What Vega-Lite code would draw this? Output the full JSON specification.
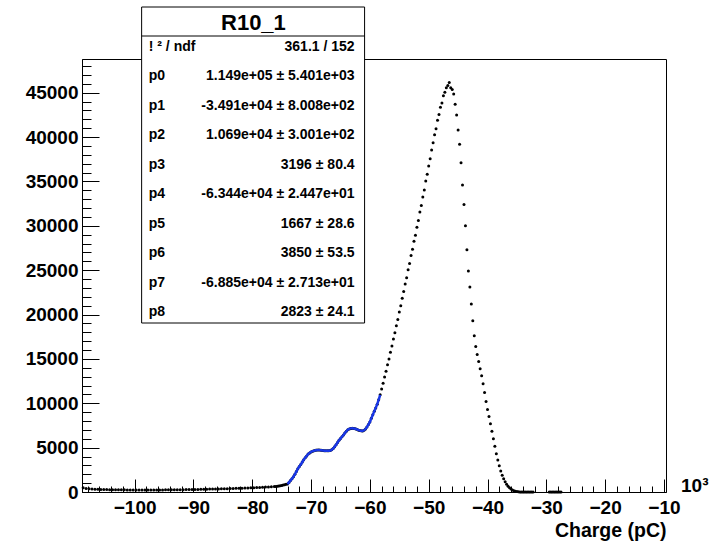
{
  "$schema": "https://vega.github.io/schema/vega-lite/v6.json",
  "width": 584,
  "height": 433,
  "autosize": "none",
  "padding": {"left": 82, "top": 59, "right": 61, "bottom": 52},
  "background": "white",
  "config": {
    "font": "Liberation Sans",
    "view": {"stroke": "black", "strokeWidth": 1},
    "axis": {"grid": false, "domainColor": "black", "tickColor": "black", "labelColor": "black", "titleColor": "black", "labelFont": "Liberation Sans", "titleFont": "Liberation Sans", "tickWidth": 1, "domainWidth": 1}
  },
  "datasets": {
    "hist": [
      {"q":-108.75,"n":480},{"q":-108.25,"n":400},{"q":-107.75,"n":360},{"q":-107.25,"n":330},{"q":-106.75,"n":310},{"q":-106.25,"n":300},{"q":-105.75,"n":290},{"q":-105.25,"n":280},{"q":-104.75,"n":270},{"q":-104.25,"n":265},{"q":-103.75,"n":260},{"q":-103.25,"n":250},{"q":-102.75,"n":245},{"q":-102.25,"n":240},{"q":-101.75,"n":240},{"q":-101.25,"n":235},{"q":-100.75,"n":230},{"q":-100.25,"n":230},{"q":-99.75,"n":225},{"q":-99.25,"n":225},{"q":-98.75,"n":220},{"q":-98.25,"n":225},{"q":-97.75,"n":220},{"q":-97.25,"n":225},{"q":-96.75,"n":225},{"q":-96.25,"n":230},{"q":-95.75,"n":230},{"q":-95.25,"n":235},{"q":-94.75,"n":240},{"q":-94.25,"n":240},{"q":-93.75,"n":245},{"q":-93.25,"n":250},{"q":-92.75,"n":255},{"q":-92.25,"n":260},{"q":-91.75,"n":265},{"q":-91.25,"n":270},{"q":-90.75,"n":275},{"q":-90.25,"n":280},{"q":-89.75,"n":290},{"q":-89.25,"n":295},{"q":-88.75,"n":300},{"q":-88.25,"n":310},{"q":-87.75,"n":315},{"q":-87.25,"n":325},{"q":-86.75,"n":330},{"q":-86.25,"n":340},{"q":-85.75,"n":350},{"q":-85.25,"n":360},{"q":-84.75,"n":370},{"q":-84.25,"n":380},{"q":-83.75,"n":390},{"q":-83.25,"n":400},{"q":-82.75,"n":410},{"q":-82.25,"n":420},{"q":-81.75,"n":435},{"q":-81.25,"n":450},{"q":-80.75,"n":460},{"q":-80.25,"n":475},{"q":-79.75,"n":490},{"q":-79.25,"n":505},{"q":-78.75,"n":520},{"q":-78.25,"n":540},{"q":-77.75,"n":555},{"q":-77.25,"n":570},{"q":-76.75,"n":590},{"q":-76.25,"n":610},
      {"q":-76.0,"n":620},{"q":-75.75,"n":645},{"q":-75.5,"n":670},{"q":-75.25,"n":700},{"q":-75.0,"n":740},{"q":-74.75,"n":780},{"q":-74.5,"n":820},{"q":-74.25,"n":860},{"q":-74.0,"n":900},{"q":-73.75,"n":1080},{"q":-73.5,"n":1300},{"q":-73.25,"n":1500},{"q":-73.0,"n":1720},{"q":-72.75,"n":2000},{"q":-72.5,"n":2300},{"q":-72.25,"n":2620},{"q":-72.0,"n":2880},{"q":-71.75,"n":3100},{"q":-71.5,"n":3380},{"q":-71.25,"n":3640},{"q":-71.0,"n":3860},{"q":-70.75,"n":4060},{"q":-70.5,"n":4280},{"q":-70.25,"n":4400},{"q":-70.0,"n":4520},{"q":-69.75,"n":4600},{"q":-69.5,"n":4650},{"q":-69.25,"n":4700},{"q":-69.0,"n":4720},{"q":-68.75,"n":4730},{"q":-68.5,"n":4720},{"q":-68.25,"n":4700},{"q":-68.0,"n":4680},{"q":-67.75,"n":4660},{"q":-67.5,"n":4650},{"q":-67.25,"n":4650},{"q":-67.0,"n":4650},{"q":-66.75,"n":4670},{"q":-66.5,"n":4760},{"q":-66.25,"n":4900},{"q":-66.0,"n":5100},{"q":-65.75,"n":5330},{"q":-65.5,"n":5580},{"q":-65.25,"n":5820},{"q":-65.0,"n":6020},{"q":-64.75,"n":6220},{"q":-64.5,"n":6420},{"q":-64.25,"n":6640},{"q":-64.0,"n":6850},{"q":-63.75,"n":7010},{"q":-63.5,"n":7110},{"q":-63.25,"n":7170},{"q":-63.0,"n":7180},{"q":-62.75,"n":7160},{"q":-62.5,"n":7120},{"q":-62.25,"n":7070},{"q":-62.0,"n":7000},{"q":-61.75,"n":6940},{"q":-61.5,"n":6890},{"q":-61.25,"n":6880},{"q":-61.0,"n":6950},{"q":-60.75,"n":7100},{"q":-60.5,"n":7330},{"q":-60.25,"n":7600},{"q":-60.0,"n":7900},{"q":-59.75,"n":8300},{"q":-59.5,"n":8700},{"q":-59.25,"n":9100},{"q":-59.0,"n":9480},{"q":-58.75,"n":9900},{"q":-58.5,"n":10400},{"q":-58.25,"n":10950},{"q":-58.0,"n":11600},
      {"q":-57.75,"n":12250},{"q":-57.5,"n":12950},{"q":-57.25,"n":13600},{"q":-57.0,"n":14350},{"q":-56.75,"n":15000},{"q":-56.5,"n":15750},{"q":-56.25,"n":16450},{"q":-56.0,"n":17250},{"q":-55.75,"n":17950},{"q":-55.5,"n":18750},{"q":-55.25,"n":19450},{"q":-55.0,"n":20300},{"q":-54.75,"n":21000},{"q":-54.5,"n":21850},{"q":-54.25,"n":22600},{"q":-54.0,"n":23450},{"q":-53.75,"n":24150},{"q":-53.5,"n":25050},{"q":-53.25,"n":25750},{"q":-53.0,"n":26650},{"q":-52.75,"n":27350},{"q":-52.5,"n":28250},{"q":-52.25,"n":28950},{"q":-52.0,"n":29850},{"q":-51.75,"n":30600},{"q":-51.5,"n":31550},{"q":-51.25,"n":32300},{"q":-51.0,"n":33250},{"q":-50.75,"n":34050},{"q":-50.5,"n":35050},{"q":-50.25,"n":35800},{"q":-50.0,"n":36750},{"q":-49.75,"n":37550},{"q":-49.5,"n":38550},{"q":-49.25,"n":39350},{"q":-49.0,"n":40250},{"q":-48.75,"n":40950},{"q":-48.5,"n":41900},{"q":-48.25,"n":42550},{"q":-48.0,"n":43350},{"q":-47.75,"n":43850},{"q":-47.5,"n":44650},{"q":-47.25,"n":45050},{"q":-47.0,"n":45550},{"q":-46.75,"n":45800},{"q":-46.5,"n":46150},{"q":-46.25,"n":45550},
      {"q":-46.0,"n":45350},{"q":-45.75,"n":44850},{"q":-45.5,"n":43700},{"q":-45.25,"n":42500},{"q":-45.0,"n":40800},{"q":-44.75,"n":39200},{"q":-44.5,"n":37100},{"q":-44.25,"n":34600},{"q":-44.0,"n":32400},{"q":-43.75,"n":30000},{"q":-43.5,"n":27300},{"q":-43.25,"n":24900},{"q":-43.0,"n":23100},{"q":-42.75,"n":21200},{"q":-42.5,"n":19300},{"q":-42.25,"n":17600},{"q":-42.0,"n":16400},{"q":-41.75,"n":15500},{"q":-41.5,"n":14700},{"q":-41.25,"n":13900},{"q":-41.0,"n":13100},{"q":-40.75,"n":12200},{"q":-40.5,"n":11200},{"q":-40.25,"n":10200},{"q":-40.0,"n":9300},{"q":-39.75,"n":8500},{"q":-39.5,"n":7700},{"q":-39.25,"n":6850},{"q":-39.0,"n":6000},{"q":-38.75,"n":5150},{"q":-38.5,"n":4300},{"q":-38.25,"n":3600},{"q":-38.0,"n":2950},{"q":-37.75,"n":2380},{"q":-37.5,"n":1880},{"q":-37.25,"n":1480},{"q":-37.0,"n":1150},{"q":-36.75,"n":880},{"q":-36.5,"n":650},{"q":-36.25,"n":470},{"q":-36.0,"n":330},{"q":-35.75,"n":220},{"q":-35.5,"n":140},{"q":-35.25,"n":85},{"q":-35.0,"n":45},{"q":-34.75,"n":25},{"q":-34.5,"n":12},{"q":-34.25,"n":6},{"q":-34.0,"n":3},{"q":-33.75,"n":2},{"q":-33.5,"n":2},{"q":-33.25,"n":1},{"q":-33.0,"n":1},{"q":-32.75,"n":1},{"q":-32.5,"n":1},{"q":-32.25,"n":1},
      {"q":-29.5,"n":1},{"q":-29.25,"n":1},{"q":-29.0,"n":1},{"q":-28.75,"n":1},{"q":-28.5,"n":1},{"q":-28.25,"n":1},{"q":-28.0,"n":1},{"q":-27.75,"n":1},{"q":-27.5,"n":1}
    ],
    "stats": [
      {"row":0,"label":"! ² / ndf","value":"361.1 / 152"},
      {"row":1,"label":"p0","value":"1.149e+05 ± 5.401e+03"},
      {"row":2,"label":"p1","value":"-3.491e+04 ± 8.008e+02"},
      {"row":3,"label":"p2","value":"1.069e+04 ± 3.001e+02"},
      {"row":4,"label":"p3","value":"3196 ± 80.4"},
      {"row":5,"label":"p4","value":"-6.344e+04 ± 2.447e+01"},
      {"row":6,"label":"p5","value":"1667 ± 28.6"},
      {"row":7,"label":"p6","value":"3850 ± 53.5"},
      {"row":8,"label":"p7","value":"-6.885e+04 ± 2.713e+01"},
      {"row":9,"label":"p8","value":"2823 ± 24.1"}
    ]
  },
  "layer": [
    {
      "data": {"name": "hist"},
      "layer": [
        {
          "mark": {"type": "point", "opacity": 0},
          "encoding": {
            "x": {"field": "q", "type": "quantitative", "scale": {"domain": [-108.95, -9.65], "nice": false, "zero": false},
                  "axis": {"orient": "bottom", "values": [-108,-106,-104,-102,-100,-98,-96,-94,-92,-90,-88,-86,-84,-82,-80,-78,-76,-74,-72,-70,-68,-66,-64,-62,-60,-58,-56,-54,-52,-50,-48,-46,-44,-42,-40,-38,-36,-34,-32,-30,-28,-26,-24,-22,-20,-18,-16,-14,-12,-10], "tickSize": -6, "labels": false, "domain": false, "title": null}},
            "y": {"field": "n", "type": "quantitative", "scale": {"domain": [0, 48800], "nice": false, "zero": true},
                  "axis": {"orient": "left", "values": [0,1000,2000,3000,4000,5000,6000,7000,8000,9000,10000,11000,12000,13000,14000,15000,16000,17000,18000,19000,20000,21000,22000,23000,24000,25000,26000,27000,28000,29000,30000,31000,32000,33000,34000,35000,36000,37000,38000,39000,40000,41000,42000,43000,44000,45000,46000,47000,48000], "tickSize": -9, "labels": false, "domain": false, "title": null}}
          }
        },
        {
          "mark": {"type": "circle", "color": "black", "opacity": 1, "size": 9},
          "encoding": {
            "x": {"field": "q", "type": "quantitative", "scale": {"domain": [-108.95, -9.65], "nice": false, "zero": false},
                  "axis": {"orient": "bottom", "values": [-100,-90,-80,-70,-60,-50,-40,-30,-20,-10], "tickSize": -13, "labelPadding": 19, "labelFontSize": 19, "labelFontWeight": "bold", "title": "Charge (pC)", "titleAnchor": "end", "titleAlign": "right", "titleFontSize": 19.5, "titleFontWeight": "bold", "titlePadding": 4, "domain": true}},
            "y": {"field": "n", "type": "quantitative", "scale": {"domain": [0, 48800], "nice": false, "zero": true},
                  "axis": {"orient": "left", "values": [0,5000,10000,15000,20000,25000,30000,35000,40000,45000], "format": "d", "tickSize": -17, "labelPadding": 21, "labelFontSize": 19, "labelFontWeight": "bold", "title": null, "domain": true}}
          }
        },
        {
          "transform": [{"filter": "datum.q >= -74 && datum.q <= -58.25"}],
          "mark": {"type": "line", "color": "#1836e6", "strokeWidth": 2.5, "interpolate": "monotone"},
          "encoding": {
            "x": {"field": "q", "type": "quantitative", "scale": {"domain": [-108.95, -9.65], "nice": false, "zero": false}, "axis": null},
            "y": {"field": "n", "type": "quantitative", "scale": {"domain": [0, 48800], "nice": false, "zero": true}, "axis": null}
          }
        },
        {
          "data": {"values": [{"box": "stats"}]},
          "mark": {"type": "rect", "fill": "white", "stroke": "black", "strokeWidth": 1},
          "encoding": {
            "x": {"datum": -98.81, "type": "quantitative", "scale": {"domain": [-108.95, -9.65], "nice": false, "zero": false}, "axis": null},
            "x2": {"datum": -60.9},
            "y": {"datum": 54660, "type": "quantitative", "scale": {"domain": [0, 48800], "nice": false, "zero": true}, "axis": null},
            "y2": {"datum": 19046}
          }
        },
        {
          "data": {"values": [{"box": "stats"}]},
          "mark": {"type": "rule", "color": "black", "strokeWidth": 1},
          "encoding": {
            "x": {"datum": -98.81, "type": "quantitative", "scale": {"domain": [-108.95, -9.65], "nice": false, "zero": false}, "axis": null},
            "x2": {"datum": -60.9},
            "y": {"datum": 51392, "type": "quantitative", "scale": {"domain": [0, 48800], "nice": false, "zero": true}, "axis": null}
          }
        },
        {
          "data": {"values": [{"name": "R10_1"}]},
          "mark": {"type": "text", "font": "Liberation Sans", "fontWeight": "bold", "fontSize": 22, "align": "center", "baseline": "middle", "color": "black"},
          "encoding": {
            "x": {"datum": -79.8, "type": "quantitative", "scale": {"domain": [-108.95, -9.65], "nice": false, "zero": false}, "axis": null},
            "y": {"datum": 52900, "type": "quantitative", "scale": {"domain": [0, 48800], "nice": false, "zero": true}, "axis": null},
            "text": {"field": "name"}
          }
        },
        {
          "data": {"values": [{"exp": "10³"}]},
          "mark": {"type": "text", "font": "Liberation Sans", "fontWeight": "bold", "fontSize": 19, "align": "left", "baseline": "alphabetic", "color": "black"},
          "encoding": {
            "x": {"datum": -7.1, "type": "quantitative", "scale": {"domain": [-108.95, -9.65], "nice": false, "zero": false}, "axis": null},
            "y": {"datum": 0, "type": "quantitative", "scale": {"domain": [0, 48800], "nice": false, "zero": true}, "axis": null},
            "text": {"field": "exp"}
          }
        }
      ],
      "resolve": {"axis": {"x": "independent", "y": "independent"}}
    },
    {
      "data": {"name": "stats"},
      "layer": [
        {
          "mark": {"type": "text", "font": "Liberation Sans", "fontWeight": "bold", "fontSize": 14, "align": "left", "baseline": "middle", "color": "black"},
          "encoding": {
            "x": {"datum": -97.6, "type": "quantitative", "scale": {"domain": [-108.95, -9.65], "nice": false, "zero": false}, "axis": null},
            "y": {"field": "row", "type": "quantitative", "scale": {"domain": [0.4068, 15.085], "nice": false, "zero": false, "reverse": true}, "axis": null},
            "text": {"field": "label"}
          }
        },
        {
          "mark": {"type": "text", "font": "Liberation Sans", "fontWeight": "bold", "fontSize": 14, "align": "right", "baseline": "middle", "color": "black"},
          "encoding": {
            "x": {"datum": -62.6, "type": "quantitative", "scale": {"domain": [-108.95, -9.65], "nice": false, "zero": false}, "axis": null},
            "y": {"field": "row", "type": "quantitative", "scale": {"domain": [0.4068, 15.085], "nice": false, "zero": false, "reverse": true}, "axis": null},
            "text": {"field": "value"}
          }
        }
      ]
    }
  ],
  "resolve": {"scale": {"y": "independent"}, "axis": {"x": "independent", "y": "independent"}}
}
